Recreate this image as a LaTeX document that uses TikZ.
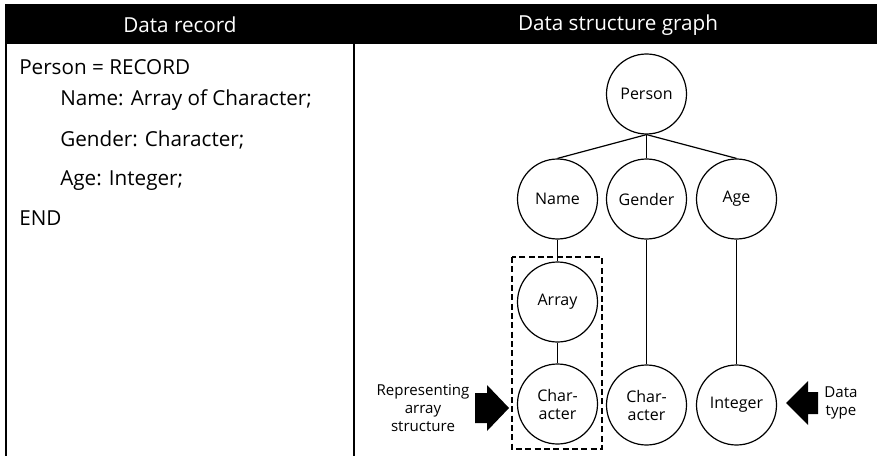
\documentclass[tikz,border=0pt]{standalone}
\usepackage{fontspec}
\setmainfont{Open Sans}
\begin{document}
\begin{tikzpicture}[x=0.75pt,y=-0.75pt,
  circ/.style={draw,circle,line width=0.9pt,minimum size=60pt,inner sep=0pt,align=center,font=\fontsize{12}{13.5}\selectfont},
  code/.style={anchor=west,inner sep=0pt,font=\fontsize{15.5}{17}\selectfont},
  hdr/.style={text=white,font=\fontsize{15.5}{17}\selectfont},
  lbl/.style={align=center,font=\fontsize{11.3}{13.3}\selectfont},
  edge/.style={line width=0.9pt},
  bigarrow/.style={fill=black}]
\useasboundingbox (0,0) rectangle (877,456);
% header band and table lines
\fill (5,4) rectangle (877,44);
\draw[line width=1.5pt] (5.5,44) -- (5.5,456);
\draw[line width=1.1pt] (354,44) -- (354,456);
\node[hdr] (h1) at (180,25) {Data record};
\node[hdr] (h2) at (618,25) {Data structure graph};
% record text
\node[code] (t1) at (19,67) {Person = RECORD};
\node[code] (t2) at (60,100) {Name: Array of Character;};
\node[code] (t3) at (60,140) {Gender: Character;};
\node[code] (t4) at (60,181) {Age: Integer;};
\node[code] (t5) at (19,218) {END};
% graph
\node[circ] (person) at (646.5,94) {Person};
\node[circ] (name) at (557.5,199) {Name};
\node[circ] (gender) at (646.5,199) {Gender};
\node[circ] (age) at (736.5,199) {Age};
\node[circ] (array) at (557.5,302) {Array};
\node[circ] (char1) at (557.5,404) {Char-\\acter};
\node[circ] (char2) at (646.5,405) {Char-\\acter};
\node[circ] (int) at (736.5,405) {Integer};
\draw[edge] (person.south) -- (name.north);
\draw[edge] (person.south) -- (gender.north);
\draw[edge] (person.south) -- (age.north);
\draw[edge] (name.south) -- (array.north);
\draw[edge] (array.south) -- (char1.north);
\draw[edge] (gender.south) -- (char2.north);
\draw[edge] (age.south) -- (int.north);
% dashed group
\draw[line width=0.9pt,dash pattern=on 4.5pt off 2.5pt] (512,257) rectangle (602,449);
% arrows
\fill[bigarrow] (475,393) -- (487,393) -- (487,385) -- (509,408) -- (487,431) -- (487,423) -- (475,423) -- cycle;
\fill[bigarrow] (818,392) -- (808,392) -- (808,381) -- (786,403) -- (808,425) -- (808,414) -- (818,414) -- cycle;
\node[lbl] (l1) at (423,408) {Representing\\array\\structure};
\node[lbl] (l2) at (841,403) {Data\\type};
\end{tikzpicture}
\end{document}
